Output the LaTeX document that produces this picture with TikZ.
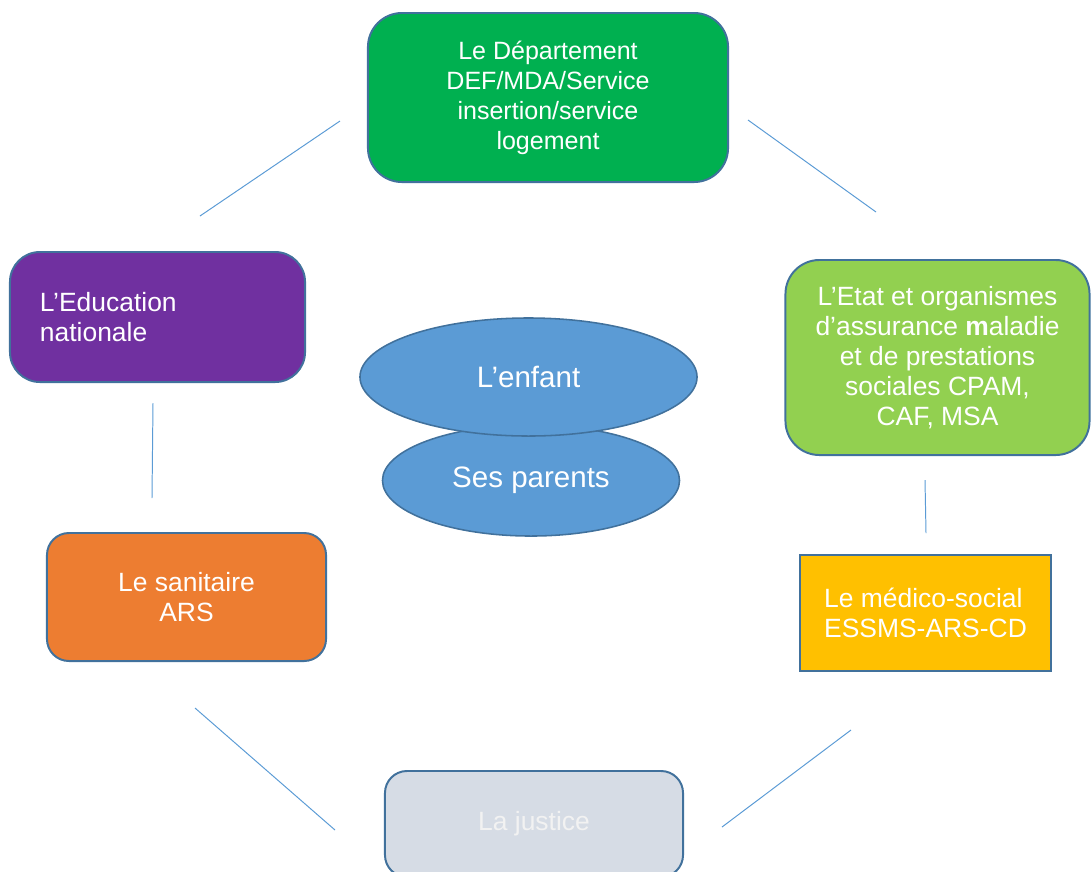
\documentclass[tikz,border=0pt]{standalone}
\usepackage{fontspec}
\setmainfont{Liberation Sans}
\usetikzlibrary{shapes.geometric}

\definecolor{edgeblue}{HTML}{41719C}
\definecolor{linkblue}{HTML}{5B9BD5}
\definecolor{deptgreen}{HTML}{00B050}
\definecolor{etatgreen}{HTML}{92D050}
\definecolor{edpurple}{HTML}{7030A0}
\definecolor{sanorange}{HTML}{ED7D31}
\definecolor{medgold}{HTML}{FFC000}
\definecolor{justgrey}{HTML}{D6DCE5}
\definecolor{ovalblue}{HTML}{5B9BD5}

\begin{document}
\begin{tikzpicture}[
    x=0.025cm, y=-0.025cm,
    box/.style={draw=edgeblue, line width=1.4pt, text=white,
                font=\fontsize{18.8}{21.3}\selectfont, align=center,
                inner sep=0pt, rounded corners=0.85cm},
    oval/.style={ellipse, draw=edgeblue, line width=1.1pt, fill=ovalblue,
                 text=white, font=\fontsize{21}{24}\selectfont},
    link/.style={draw=linkblue, line width=0.7pt},
]
\useasboundingbox (0,0) rectangle (1091,871);

% Partners around the child
\node[box, fill=deptgreen, minimum width=9cm, minimum height=4.225cm,
      font=\fontsize{17.8}{21.3}\selectfont]
    (dept) at (548,97.5)
    {Le Département\\DEF/MDA/Service\\insertion/service\\logement};
\node[box, fill=etatgreen, minimum width=7.6cm, minimum height=4.875cm]
    (etat) at (937.5,357.5)
    {L’Etat et organismes\\d’assurance \textbf{m}aladie\\et de prestations\\sociales CPAM,\\CAF, MSA};
\node[box, fill=edpurple, minimum width=7.375cm, minimum height=3.25cm,
      rounded corners=0.75cm, align=left, text width=5.875cm, inner xsep=0.75cm]
    (educ) at (157.5,317)
    {L’Education\\nationale};
\node[box, fill=sanorange, minimum width=6.975cm, minimum height=3.2cm,
      rounded corners=0.55cm]
    (sanit) at (186.5,597)
    {Le sanitaire\\ARS};
\node[box, fill=medgold, minimum width=6.275cm, minimum height=2.9cm,
      rounded corners=0pt, line width=2pt, align=left]
    (medico) at (925.5,613)
    {Le médico-social\\ESSMS-ARS-CD};
\node[box, fill=justgrey, text=white!95!black, minimum width=7.45cm,
      minimum height=2.65cm, rounded corners=0.55cm]
    (justice) at (534,824)
    {La justice};

% The child and the parents
\node[oval, minimum width=7.425cm, minimum height=2.775cm]
    (parents) at (531,480.5) {Ses parents};
\node[oval, minimum width=8.425cm, minimum height=2.95cm]
    (enfant) at (528.5,377) {L’enfant};

% Loose strokes between the boxes
\coordinate (a1) at (340,121);  \coordinate (a2) at (200,216);
\coordinate (b1) at (748,120);  \coordinate (b2) at (876,212);
\coordinate (c1) at (153,403);  \coordinate (c2) at (152,498);
\coordinate (d1) at (925,480);  \coordinate (d2) at (926,533);
\coordinate (e1) at (195,708);  \coordinate (e2) at (335,830);
\coordinate (f1) at (851,730);  \coordinate (f2) at (722,827);
\draw[link] (a1) -- (a2);
\draw[link] (b1) -- (b2);
\draw[link] (c1) -- (c2);
\draw[link] (d1) -- (d2);
\draw[link] (e1) -- (e2);
\draw[link] (f1) -- (f2);

\end{tikzpicture}
\end{document}
